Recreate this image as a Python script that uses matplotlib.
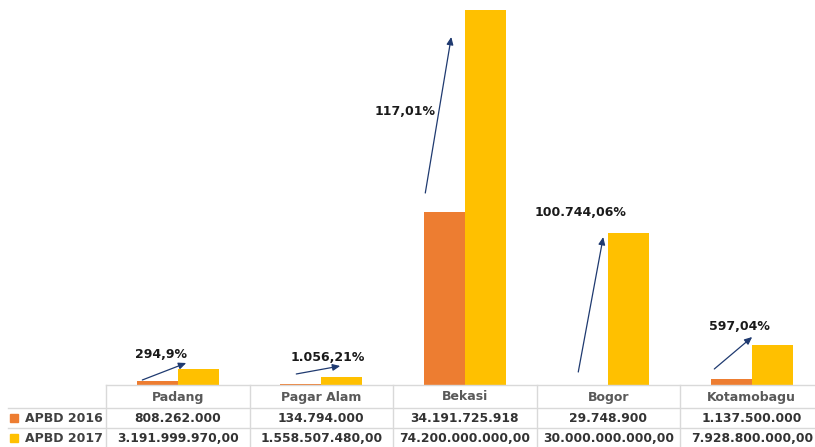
import matplotlib
matplotlib.use("Agg")
import matplotlib.pyplot as plt
from matplotlib.transforms import blended_transform_factory
import numpy as np

categories = ["Padang", "Pagar Alam", "Bekasi", "Bogor", "Kotamobagu"]
apbd_2016 = [808262000, 134794000, 34191725918, 29748900, 1137500000]
apbd_2017 = [3191999970.00, 1558507480.00, 74200000000.00, 30000000000.00, 7928800000.00]
labels_2016 = ["808.262.000", "134.794.000", "34.191.725.918", "29.748.900", "1.137.500.000"]
labels_2017 = ["3.191.999.970,00", "1.558.507.480,00", "74.200.000.000,00",
               "30.000.000.000,00", "7.928.800.000,00"]
growth_labels = ["294,9%", "1.056,21%", "117,01%", "100.744,06%", "597,04%"]
series_names = ["APBD 2016", "APBD 2017"]

C16 = "#ED7D31"
C17 = "#FFC000"
ARROW = "#1F3A70"
GRID = "#D9D9D9"

W, H = 815, 447
fig = plt.figure(figsize=(W / 100, H / 100), dpi=100)
ax_left = 106 / W
ax_width = 717.5 / W
ax_bottom = (H - 385) / H
ax = fig.add_axes([ax_left, ax_bottom, ax_width, 1 - ax_bottom])

x = np.arange(len(categories))
bw = 0.286
ax.bar(x - bw / 2, apbd_2016, width=bw, color=C16, zorder=2)
ax.bar(x + bw / 2, apbd_2017, width=bw, color=C17, zorder=2)

ax.set_xlim(-0.5, len(categories) - 0.5)
ax.set_ylim(0, max(apbd_2017) * 385 / 375)
ax.axis("off")

# Growth arrows & labels (offsets relative to category centre)
arrow_start = [(-0.247, 0.99e9), (-0.174, 2.18e9), (-0.275, 37.99e9), (-0.209, 2.57e9), (-0.261, 3.17e9)]
arrow_end = [(0.059, 4.35e9), (0.132, 3.76e9), (-0.094, 68.86e9), (-0.035, 29.28e9), (0.003, 9.5e9)]
label_pos = [(-0.12, 6.13e9), (0.042, 5.54e9), (-0.415, 54.2e9), (-0.195, 34.23e9), (-0.087, 11.67e9)]
for i, lab in enumerate(growth_labels):
    sx, sy = arrow_start[i]
    ex, ey = arrow_end[i]
    ax.annotate("", xy=(i + ex, ey), xytext=(i + sx, sy),
                arrowprops=dict(arrowstyle="-|>,head_length=0.45,head_width=0.2",
                                color=ARROW, lw=0.9, shrinkA=0, shrinkB=0),
                zorder=3)
    lx, ly = label_pos[i]
    ax.text(i + lx, ly, lab, ha="center", va="center", fontsize=9,
            fontweight="bold", color="#1a1a1a", zorder=4)

# Data table
tr = blended_transform_factory(ax.transData, ax.transAxes)
trf = blended_transform_factory(fig.transFigure, ax.transAxes)
axh = 385.0

def yf(py):
    return (385 - py) / axh

# horizontal lines
ax.plot([-0.5, len(categories) - 0.5 + 0.1], [yf(385), yf(385)], transform=tr,
        color=GRID, lw=1, clip_on=False)
for py in (408, 428):
    ax.plot([8 / W, 1.05], [yf(py), yf(py)], transform=trf, color=GRID, lw=1, clip_on=False)
# vertical lines
for b in np.arange(len(categories) + 1) - 0.5:
    ax.plot([b, b], [yf(385), yf(450)], transform=tr, color=GRID, lw=1, clip_on=False)

row_y = [yf(397), yf(418), yf(438)]
for i, cat in enumerate(categories):
    ax.text(i, row_y[0], cat, transform=tr, ha="center", va="center", fontsize=9,
            fontweight="bold", color="#595959", clip_on=False)
    ax.text(i, row_y[1], labels_2016[i], transform=tr, ha="center", va="center",
            fontsize=8.8, fontweight="bold", color="#333333", clip_on=False)
    ax.text(i, row_y[2], labels_2017[i], transform=tr, ha="center", va="center",
            fontsize=8.8, fontweight="bold", color="#333333", clip_on=False)

for name, col, yy in zip(series_names, [C16, C17], row_y[1:]):
    fig.patches.append(plt.Rectangle((10 / W, 0), 8 / W, 0.02, transform=trf,
                                     color=col, clip_on=False))
    fig.patches[-1].set_xy((10 / W, yy - 0.0105))
    fig.text(25 / W, 0, name, transform=trf, ha="left", va="center", fontsize=9,
             fontweight="bold", color="#404040").set_y(yy)

fig.savefig("out.png", dpi=100)
